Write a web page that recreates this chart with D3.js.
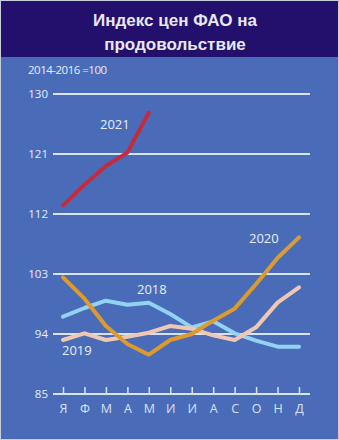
<!DOCTYPE html>
<html>
<head>
<meta charset="utf-8">
<script src="https://cdn.jsdelivr.net/npm/d3@7"></script>
<style>
  body { margin: 0; background: #fff; }
  #chart { width: 339px; height: 440px; }
  text { font-family: "Open Sans", "DejaVu Sans", sans-serif; }
</style>
</head>
<body>
<div id="chart"></div>
<script>
var months = ["Я", "Ф", "М", "А", "М", "И", "И", "А", "С", "О", "Н", "Д"];
var yTicks = [85, 94, 103, 112, 121, 130];
var v2018 = [96.6, 97.9, 99.0, 98.4, 98.7, 97.0, 95.0, 95.9, 94.1, 93.0, 92.1, 92.1];
var v2019 = [93.1, 94.1, 93.1, 93.6, 94.2, 95.2, 94.8, 93.8, 93.1, 95.0, 98.7, 101.0];
var v2020 = [102.5, 99.3, 95.2, 92.5, 90.9, 93.1, 94.0, 96.0, 97.8, 101.5, 105.4, 108.5];
var v2021 = [113.3, 116.4, 119.2, 121.2, 127.2];

var series = [
  {name: "2018", values: v2018, color: "#92d2f2"},
  {name: "2019", values: v2019, color: "#f0c8b2"},
  {name: "2020", values: v2020, color: "#dc9b2c"},
  {name: "2021", values: v2021, color: "#c62a3e"}
];

var width = 339, height = 440;
var svg = d3.select("#chart").append("svg")
  .attr("width", width).attr("height", height);

svg.append("rect").attr("width", width).attr("height", height).attr("fill", "#4a6cb8");
svg.append("rect").attr("width", width).attr("height", 57).attr("fill", "#22106c");
svg.append("rect").attr("x", 0.5).attr("y", 0.5).attr("width", width - 1).attr("height", height - 1)
  .attr("fill", "none").attr("stroke", "#c8cde0").attr("stroke-width", 1);

svg.append("text").attr("x", 175).attr("y", 26).attr("text-anchor", "middle")
  .attr("fill", "#e8e8f2").attr("font-size", 17).attr("font-weight", "bold")
  .style("font-family", "Liberation Sans, Arial, sans-serif")
  .text("Индекс цен ФАО на");
svg.append("text").attr("x", 175).attr("y", 50).attr("text-anchor", "middle")
  .attr("fill", "#e8e8f2").attr("font-size", 17).attr("font-weight", "bold")
  .style("font-family", "Liberation Sans, Arial, sans-serif")
  .text("продовольствие");

svg.append("text").attr("x", 28).attr("y", 74).attr("fill", "#e8ecf6")
  .attr("font-size", 11.5).attr("letter-spacing", -0.5).text("2014-2016 =100");

var x = d3.scalePoint().domain(d3.range(12)).range([63, 299]);
var y = d3.scaleLinear().domain([85, 130]).range([394, 94]);

// grid lines
svg.append("g").selectAll("line").data(yTicks).enter().append("line")
  .attr("x1", 53).attr("x2", 310)
  .attr("y1", function(d) { return y(d); }).attr("y2", function(d) { return y(d); })
  .attr("stroke", "#d6e4f6").attr("stroke-width", 2);

var yAxis = d3.axisLeft(y).tickValues(yTicks).tickSize(0).tickPadding(5);
var gy = svg.append("g").attr("transform", "translate(53,0)").call(yAxis);
gy.select(".domain").remove();
gy.selectAll("text").attr("fill", "#e8ecf6").attr("font-size", 11.5)
  .style("font-family", "Open Sans, DejaVu Sans, sans-serif");

var xAxis = d3.axisTop(x).tickSize(7).tickFormat(function(d) { return months[d]; });
var gx = svg.append("g").attr("transform", "translate(0," + y(85) + ")").call(xAxis);
gx.select(".domain").remove();
gx.selectAll("line").attr("stroke", "#d6e4f6").attr("stroke-width", 1.5);
gx.selectAll("text").attr("y", 19).attr("fill", "#d8e2f4").attr("font-size", 12.5)
  .style("font-family", "Open Sans, DejaVu Sans, sans-serif");

var line = d3.line()
  .x(function(d, i) { return x(i); })
  .y(function(d) { return y(d); });

svg.append("g").selectAll("path").data(series).enter().append("path")
  .attr("d", function(s) { return line(s.values); })
  .attr("fill", "none")
  .attr("stroke", function(s) { return s.color; })
  .attr("stroke-width", 4)
  .attr("stroke-linecap", "round")
  .attr("stroke-linejoin", "round");

var labels = [
  {text: "2021", x: 100, y: 129},
  {text: "2020", x: 249, y: 243},
  {text: "2018", x: 137, y: 294},
  {text: "2019", x: 62, y: 355}
];
svg.append("g").selectAll("text").data(labels).enter().append("text")
  .attr("x", function(d) { return d.x; }).attr("y", function(d) { return d.y; })
  .attr("fill", "#e8ecf6").attr("font-size", 13)
  .text(function(d) { return d.text; });
</script>
</body>
</html>
